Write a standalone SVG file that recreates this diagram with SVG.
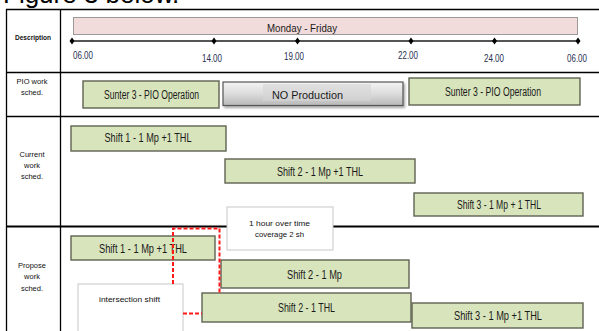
<svg xmlns="http://www.w3.org/2000/svg" width="599" height="331" viewBox="0 0 599 331">
<defs>
<linearGradient id="gray" x1="0" y1="0" x2="0" y2="1">
<stop offset="0" stop-color="#f4f4f4"/>
<stop offset="0.5" stop-color="#dcdcdc"/>
<stop offset="1" stop-color="#b8b8b8"/>
</linearGradient>
<filter id="sh" x="-5%" y="-20%" width="115%" height="160%">
<feDropShadow dx="1.5" dy="2" stdDeviation="1" flood-color="#000" flood-opacity="0.35"/>
</filter>
</defs>
<style>
.grid{stroke:#000;stroke-width:1.3;fill:none}
.box{fill:#d8e4bc;stroke:#5f6252;stroke-width:1.4}
.note{fill:#fff;stroke:#c8c8c8;stroke-width:1}
.t{font-family:"Liberation Sans Narrow","Liberation Sans",Arial,sans-serif;fill:#1a1a1a;text-anchor:middle}
.bx{font-size:12px}
.lbl{font-family:"Liberation Sans",Arial,sans-serif;font-size:7.5px;fill:#111;text-anchor:middle}
.tm{font-family:"Liberation Sans Narrow","Liberation Sans",Arial,sans-serif;font-size:11px;fill:#1f3050;text-anchor:middle}
.sm{font-family:"Liberation Sans",Arial,sans-serif;font-size:7.5px;fill:#111;text-anchor:middle}
.red{stroke:#ff1a1a;stroke-width:2;fill:none;stroke-dasharray:4 2}
</style>
<text x="3" y="3" font-family="Liberation Sans, Arial, sans-serif" font-size="26" fill="#000">Figure 3 below.</text>

<g id="table">
<line class="grid" x1="6" y1="9.5" x2="599" y2="9.5"/>
<line class="grid" x1="6.5" y1="9" x2="6.5" y2="331"/>
<line class="grid" x1="60.5" y1="9" x2="60.5" y2="331"/>
<line class="grid" x1="6" y1="72.5" x2="599" y2="72.5"/>
<line class="grid" x1="6" y1="116.5" x2="599" y2="116.5"/>
<line x1="6" y1="226.5" x2="599" y2="226.5" stroke="#000" stroke-width="2.2"/>
<text class="lbl" x="33" y="40" font-size="6" font-weight="bold" textLength="36" lengthAdjust="spacingAndGlyphs">Description</text>
<text class="lbl" x="32" y="84">PIO work</text>
<text class="lbl" x="32" y="95">sched.</text>
<text class="lbl" x="32" y="157">Current</text>
<text class="lbl" x="32" y="168">work</text>
<text class="lbl" x="32" y="179">sched.</text>
<text class="lbl" x="32" y="268">Propose</text>
<text class="lbl" x="32" y="279">work</text>
<text class="lbl" x="32" y="291">sched.</text>
</g>

<g id="period">
<rect x="73.5" y="17.5" width="504" height="17" fill="#f2dcdb" stroke="#9a9a9a" stroke-width="1"/>
<text class="t" x="302" y="32" font-size="10.5" textLength="70" lengthAdjust="spacingAndGlyphs">Monday - Friday</text>
</g>

<g id="timeline">
<line x1="72" y1="41" x2="578" y2="41" stroke="#555" stroke-width="2"/>
<g fill="#000">
<path d="M72 37.5 L74.5 41 L72 44.5 L69.5 41Z"/>
<path d="M214 37.5 L216.5 41 L214 44.5 L211.5 41Z"/>
<path d="M297.5 37.5 L300 41 L297.5 44.5 L295 41Z"/>
<path d="M411 37.5 L413.5 41 L411 44.5 L408.5 41Z"/>
<path d="M494.5 37.5 L497 41 L494.5 44.5 L492 41Z"/>
<path d="M578 37.5 L580.5 41 L578 44.5 L575.5 41Z"/>
</g>
<text class="tm" x="83" y="59" textLength="20" lengthAdjust="spacingAndGlyphs">06.00</text>
<text class="tm" x="212" y="62" textLength="20" lengthAdjust="spacingAndGlyphs">14.00</text>
<text class="tm" x="294" y="60" textLength="20" lengthAdjust="spacingAndGlyphs">19.00</text>
<text class="tm" x="408" y="59" textLength="20" lengthAdjust="spacingAndGlyphs">22.00</text>
<text class="tm" x="494" y="62" textLength="20" lengthAdjust="spacingAndGlyphs">24.00</text>
<text class="tm" x="577" y="62" textLength="20" lengthAdjust="spacingAndGlyphs">06.00</text>
</g>

<g id="pio1">
<rect class="box" x="83" y="81" width="136" height="27"/>
<text class="t bx" x="151.5" y="99" textLength="95" lengthAdjust="spacingAndGlyphs">Sunter 3 - PIO Operation</text>
</g>
<g id="noprod">
<rect x="223" y="82" width="180" height="23.5" fill="url(#gray)" stroke="#555" stroke-width="1.2" filter="url(#sh)"/>
<rect x="263" y="84" width="108" height="17" fill="#d6d6d6" opacity="0.6"/>
<text class="t" x="307.5" y="99" font-family="Liberation Sans, Arial, sans-serif" font-size="11" textLength="71" lengthAdjust="spacingAndGlyphs">NO Production</text>
</g>
<g id="pio2">
<rect class="box" x="409" y="78" width="171" height="27"/>
<text class="t bx" x="493" y="96" textLength="96" lengthAdjust="spacingAndGlyphs">Sunter 3 - PIO Operation</text>
</g>

<g id="cur1">
<rect class="box" x="71" y="126" width="155" height="25"/>
<text class="t bx" x="148" y="142" textLength="87" lengthAdjust="spacingAndGlyphs">Shift 1 - 1 Mp  +1 THL</text>
</g>
<g id="cur2">
<rect class="box" x="225" y="159" width="190" height="24"/>
<text class="t bx" x="320" y="176" textLength="86" lengthAdjust="spacingAndGlyphs">Shift 2 - 1 Mp  +1 THL</text>
</g>
<g id="cur3">
<rect class="box" x="414" y="193" width="169" height="23"/>
<text class="t bx" x="499" y="208.5" textLength="84" lengthAdjust="spacingAndGlyphs">Shift 3 - 1 Mp + 1 THL</text>
</g>

<g id="overtime">
<rect class="note" x="227" y="207" width="106" height="43"/>
<text class="sm" x="279.5" y="226" textLength="61" lengthAdjust="spacingAndGlyphs">1 hour over time</text>
<text class="sm" x="279.5" y="237" textLength="49" lengthAdjust="spacingAndGlyphs">coverage 2 sh</text>
</g>

<g id="prop1">
<rect class="box" x="71" y="236" width="144" height="24"/>
<text class="t bx" x="143" y="252.5" textLength="88" lengthAdjust="spacingAndGlyphs">Shift 1 - 1 Mp  +1 THL</text>
</g>
<g id="prop2mp">
<rect class="box" x="221" y="260" width="188" height="28"/>
<text class="t bx" x="314.5" y="279" textLength="55" lengthAdjust="spacingAndGlyphs">Shift 2 - 1 Mp</text>
</g>
<g id="prop2thl">
<rect class="box" x="202" y="293" width="209" height="29"/>
<text class="t bx" x="306.5" y="312" textLength="57" lengthAdjust="spacingAndGlyphs">Shift 2 - 1 THL</text>
</g>
<g id="prop3">
<rect class="box" x="412" y="303" width="171" height="25"/>
<text class="t bx" x="498" y="320" textLength="88" lengthAdjust="spacingAndGlyphs">Shift 3 - 1 Mp  +1 THL</text>
</g>
<g id="intersection">
<rect class="note" x="78" y="284" width="105" height="50"/>
<text class="sm" x="129.5" y="302" textLength="61" lengthAdjust="spacingAndGlyphs">intersection shift</text>
</g>

<g id="connectors">
<path class="red" d="M173 284 L173 228.5 L219.5 228.5 L219.5 293"/>
<path class="red" d="M183 313.5 L202 313.5"/>
</g>
</svg>
